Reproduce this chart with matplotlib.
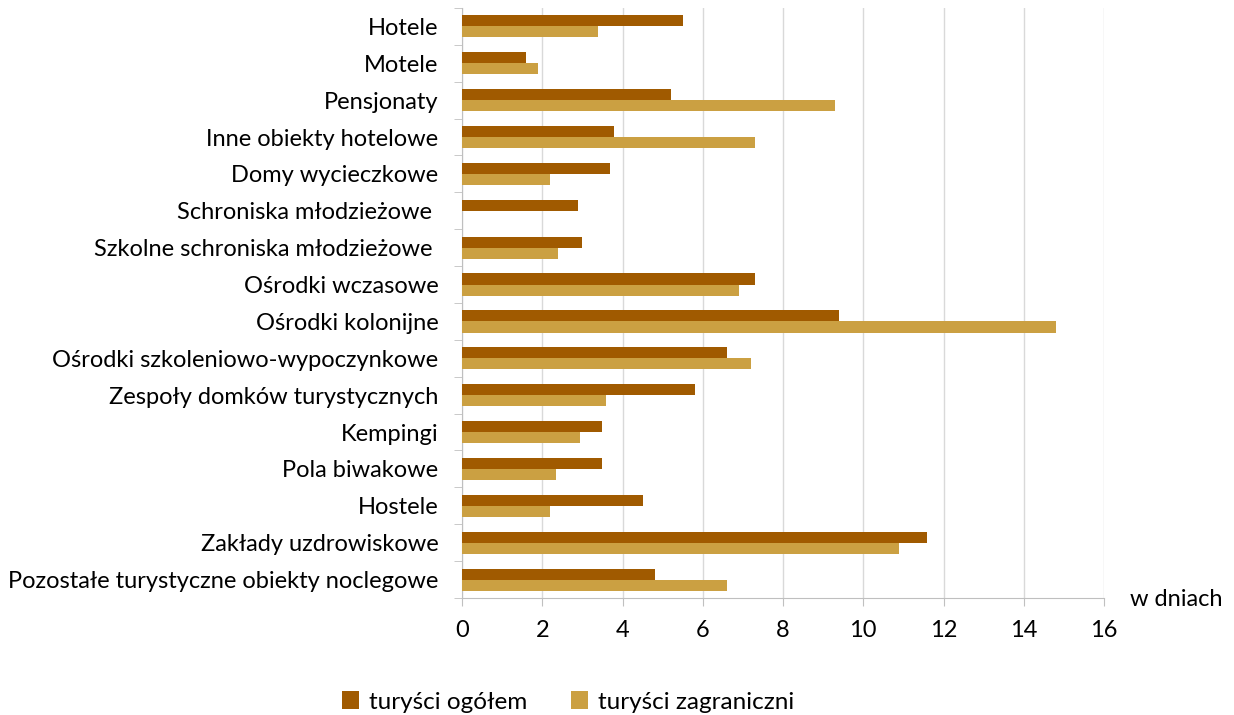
import numpy as np
import matplotlib.pyplot as plt

plt.rcParams['font.family'] = ['Lato', 'DejaVu Sans']

categories = ['Hotele', 'Motele', 'Pensjonaty', 'Inne obiekty hotelowe',
              'Domy wycieczkowe', 'Schroniska młodzieżowe ',
              'Szkolne schroniska młodzieżowe ', 'Ośrodki wczasowe',
              'Ośrodki kolonijne', 'Ośrodki szkoleniowo-wypoczynkowe',
              'Zespoły domków turystycznych', 'Kempingi', 'Pola biwakowe',
              'Hostele', 'Zakłady uzdrowiskowe',
              'Pozostałe turystyczne obiekty noclegowe']
ogolem = [5.5, 1.6, 5.2, 3.8, 3.7, 2.9, 3.0, 7.3, 9.4, 6.6, 5.8, 3.5, 3.5, 4.5, 11.6, 4.8]
zagraniczni = [3.4, 1.9, 9.3, 7.3, 2.2, 0, 2.4, 6.9, 14.8, 7.2, 3.6, 2.95, 2.35, 2.2, 10.9, 6.6]
xticks = [0, 2, 4, 6, 8, 10, 12, 14, 16]

c1 = '#a05a00'
c2 = '#cba042'

fig = plt.figure(figsize=(12.34, 7.15), dpi=100)
ax = fig.add_axes([462/1234, 1 - 598/715, 642/1234, 590/715])

y = np.arange(len(categories))
h = 0.3
ax.barh(y - h/2, ogolem, height=h, color=c1, label='turyści ogółem', zorder=3)
ax.barh(y + h/2, zagraniczni, height=h, color=c2, label='turyści zagraniczni', zorder=3)

ax.set_ylim(len(categories) - 0.5, -0.5)
ax.set_xlim(0, 16)
ax.set_xticks(xticks)
ax.set_xticklabels([str(v) for v in xticks], fontsize=17)
ax.set_yticks(y)
ax.set_yticklabels(categories, fontsize=17)
ax.set_yticks(np.arange(len(categories) + 1) - 0.5, minor=True)
ax.tick_params(axis='y', which='major', length=0, pad=17)
ax.tick_params(axis='y', which='minor', length=6, color='#c0c0c0')
ax.tick_params(axis='x', length=6, color='#c0c0c0', pad=10)

ax.grid(axis='x', color='#d9d9d9', linewidth=1, zorder=0)
for s in ['top', 'right']:
    ax.spines[s].set_visible(False)
for s in ['left', 'bottom']:
    ax.spines[s].set_color('#bfbfbf')

fig.text(1130/1234, 1 - 600/715, 'w dniach', fontsize=17, va='center', ha='left')

fig.legend(loc='center', bbox_to_anchor=(568/1234, 1 - 702/715), ncol=2,
           frameon=False, fontsize=17.5, handlelength=0.7, handleheight=0.7,
           columnspacing=1.8, handletextpad=0.4)

fig.savefig('out.png', dpi=100)
